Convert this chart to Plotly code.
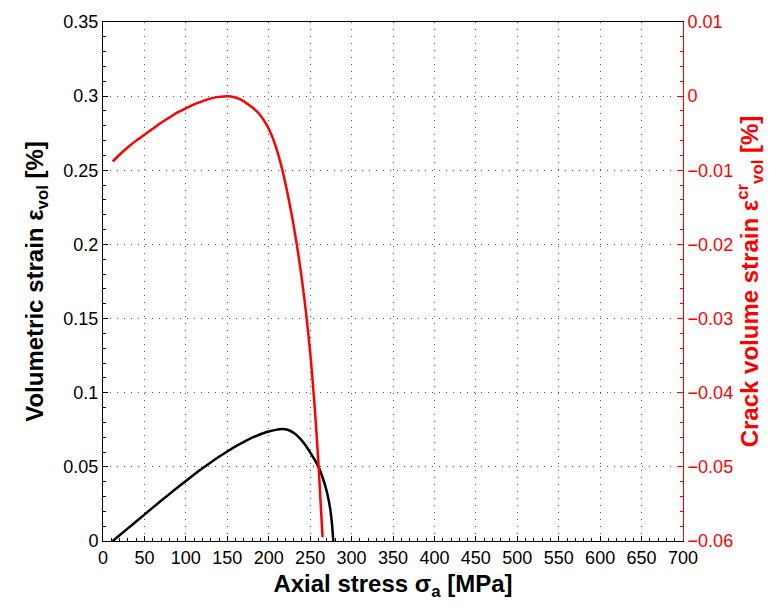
import plotly.graph_objects as go

# Black curve: volumetric strain (left axis)
vol_stress = [11.7, 20, 30, 40, 50, 60, 70, 80, 90, 100, 110, 120, 130, 140, 150, 160, 170, 180, 190,
              200, 210, 215, 220, 225, 230, 235, 240, 245, 250, 255, 260, 265, 270, 274, 276, 278]
vol_strain = [0, 0.0039, 0.0085, 0.0131, 0.0178, 0.0225, 0.0271, 0.0316, 0.0361, 0.0405, 0.0448,
              0.0490, 0.0530, 0.0568, 0.0604, 0.0638, 0.0669, 0.0697, 0.0720, 0.0739, 0.0751, 0.0755,
              0.0753, 0.0745, 0.0730, 0.0707, 0.0677, 0.0641, 0.0598, 0.0552, 0.0500, 0.0430, 0.0335,
              0.0225, 0.0135, 0]

# Red curve: crack volume strain (right axis)
cr_stress = [11.7, 20, 30, 40, 50, 60, 70, 80, 90, 100, 110, 120, 130, 140, 150, 155, 160, 165, 170,
             175, 180, 185, 190, 195, 200, 205, 210, 215, 220, 225, 230, 235, 240, 245, 250, 255, 260, 265]
cr_strain = [-0.0088, -0.0079, -0.0069, -0.0060, -0.0052, -0.0044, -0.0036, -0.0029, -0.0022, -0.00165,
             -0.0011, -0.0007, -0.0003, -0.0001, 0, -0.00005, -0.0002, -0.0004, -0.0007, -0.0011, -0.0015,
             -0.0020, -0.0026, -0.0034, -0.0044, -0.0057, -0.0073, -0.0093, -0.0117, -0.0144, -0.0174,
             -0.0208, -0.0247, -0.0292, -0.0345, -0.0412, -0.0495, -0.0595]

x_ticks = list(range(0, 701, 50))
y_ticks = [0, 0.05, 0.1, 0.15, 0.2, 0.25, 0.3, 0.35]
y2_ticks = [-0.06, -0.05, -0.04, -0.03, -0.02, -0.01, 0, 0.01]

FONT = "Liberation Sans, Arial, sans-serif"
GRID = dict(showgrid=True, gridcolor="#555", griddash="1px,6px", gridwidth=1.2)

fig = go.Figure()
fig.add_trace(go.Scatter(x=vol_stress, y=vol_strain, mode="lines",
                         line=dict(color="black", width=2.5, shape="spline", smoothing=0.8),
                         yaxis="y", showlegend=False))
fig.add_trace(go.Scatter(x=cr_stress, y=cr_strain, mode="lines",
                         line=dict(color="red", width=2.5, shape="spline", smoothing=0.8),
                         yaxis="y2", showlegend=False))

fig.update_layout(
    width=784, height=611,
    margin=dict(l=103, r=101, t=18, b=70),
    plot_bgcolor="white", paper_bgcolor="white",
    font=dict(family=FONT, size=18, color="black"),
    xaxis=dict(
        range=[0, 700], tickvals=x_ticks, ticktext=[str(v) for v in x_ticks],
        showline=True, linecolor="black", linewidth=1, mirror=True,
        ticks="inside", ticklen=5, tickcolor="black",
        minor=dict(dtick=10, ticks="inside", ticklen=3, tickcolor="black", showgrid=False),
        zeroline=False,
        title=dict(text="<b>Axial stress σ<sub>a</sub> [MPa]</b>", font=dict(size=24, family=FONT), standoff=8),
        tickfont=dict(size=18, family=FONT),
        **GRID,
    ),
    yaxis=dict(
        range=[0, 0.35], tickvals=y_ticks, ticktext=[f"{v:g}" for v in y_ticks],
        showline=True, linecolor="black", linewidth=1,
        ticks="inside", ticklen=5, tickcolor="black",
        minor=dict(dtick=0.01, ticks="inside", ticklen=3, tickcolor="black", showgrid=False),
        zeroline=False,
        title=dict(text="<b>Volumetric strain ε<sub>vol</sub> [%]</b>", font=dict(size=24, family=FONT), standoff=12),
        tickfont=dict(size=18, family=FONT),
        **GRID,
    ),
    yaxis2=dict(
        range=[-0.06, 0.01], tickvals=y2_ticks, ticktext=[f"{v:g}".replace("-", "\u2212") for v in y2_ticks],
        overlaying="y", side="right", anchor="x",
        showline=True, linecolor="red", linewidth=1,
        ticks="inside", ticklen=5, tickcolor="red",
        minor=dict(dtick=0.002, ticks="inside", ticklen=3, tickcolor="red", showgrid=False),
        showgrid=False, zeroline=False,
        title=dict(text="<b>Crack volume strain ε<sup>cr</sup><sub>vol</sub> [%]</b>",
                   font=dict(size=24, family=FONT, color="red"), standoff=8),
        tickfont=dict(size=18, family=FONT, color="red"),
    ),
)

fig.write_html("out.html")
